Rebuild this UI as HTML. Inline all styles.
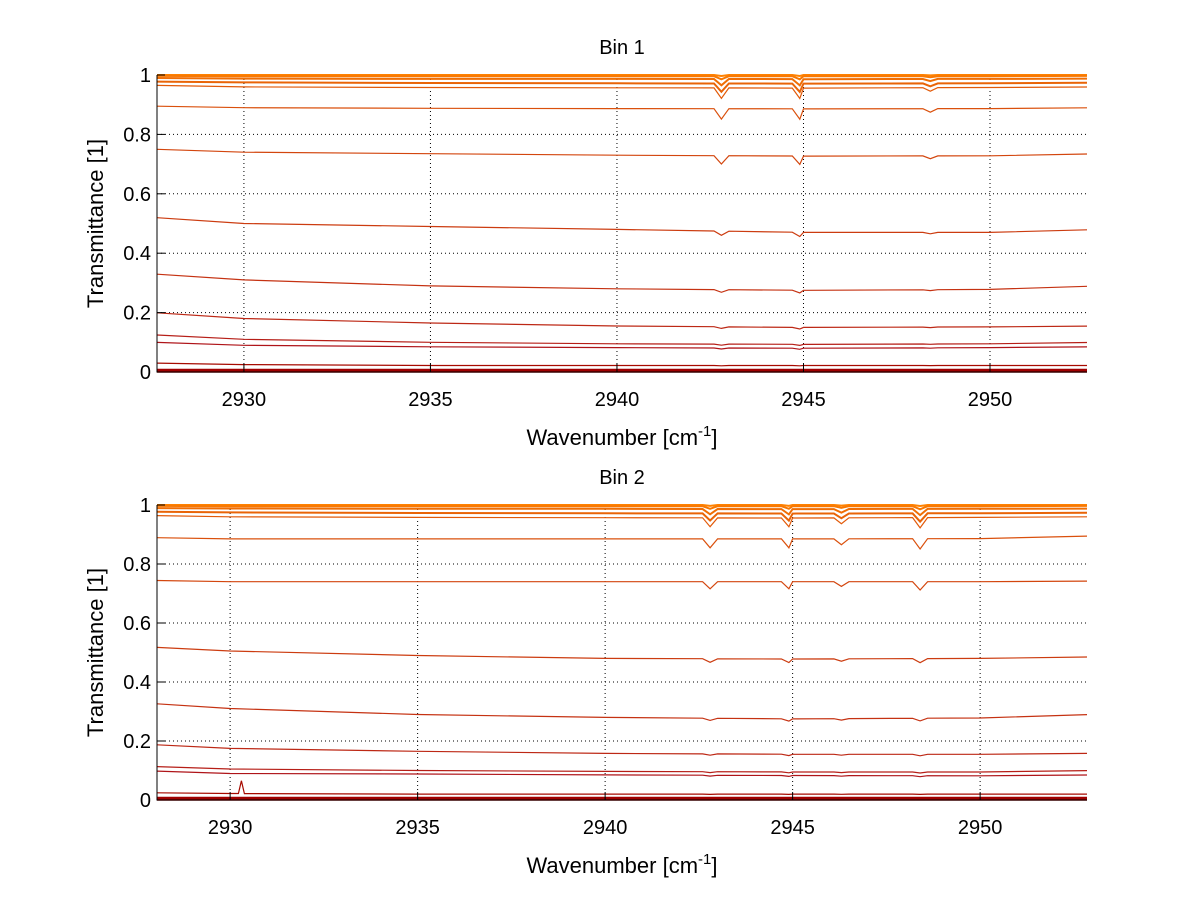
<!DOCTYPE html>
<html><head><meta charset="utf-8"><style>
body{margin:0;background:#fff}
svg{display:block}
text{font-family:"Liberation Sans",sans-serif;fill:#000}
</style></head><body>
<svg id="chart" width="1200" height="901" viewBox="0 0 1200 901" xmlns="http://www.w3.org/2000/svg"></svg>
<script>
// ---- data ----
const anchorX = [2927.6, 2930, 2935, 2940, 2945, 2950, 2953];
const bin1Curves = [
 [1.0,1.0,1.0,1.0,1.0,1.0,1.0],
 [0.997,0.996,0.996,0.996,0.996,0.996,0.997],
 [0.99,0.988,0.987,0.987,0.986,0.987,0.988],
 [0.978,0.975,0.973,0.972,0.971,0.972,0.974],
 [0.965,0.96,0.958,0.957,0.956,0.958,0.96],
 [0.895,0.89,0.888,0.887,0.886,0.887,0.89],
 [0.75,0.74,0.735,0.73,0.727,0.728,0.735],
 [0.52,0.50,0.49,0.48,0.47,0.47,0.48],
 [0.33,0.31,0.29,0.28,0.275,0.278,0.29],
 [0.20,0.18,0.165,0.155,0.15,0.152,0.155],
 [0.125,0.11,0.10,0.095,0.093,0.095,0.10],
 [0.10,0.09,0.085,0.082,0.08,0.082,0.085],
 [0.03,0.025,0.022,0.022,0.022,0.022,0.022],
 [0.004,0.004,0.004,0.004,0.004,0.004,0.004]
];
const bin1DipPos = [2942.8, 2944.9, 2948.4];
const bin1DipDepth = [0.035, 0.035, 0.012];
const bin1DipFactor = [0.1,0.3,0.6,0.8,1,1,0.8,0.4,0.25,0.15,0.1,0.1,0.03,0];

const bin2Curves = [
 [1.0,1.0,1.0,1.0,1.0,1.0,1.0],
 [0.997,0.996,0.996,0.996,0.996,0.996,0.997],
 [0.99,0.988,0.987,0.987,0.986,0.987,0.988],
 [0.978,0.975,0.973,0.972,0.971,0.972,0.974],
 [0.965,0.96,0.958,0.957,0.956,0.958,0.96],
 [0.89,0.885,0.885,0.885,0.885,0.886,0.895],
 [0.745,0.74,0.74,0.74,0.74,0.74,0.742],
 [0.52,0.505,0.49,0.48,0.478,0.48,0.485],
 [0.33,0.31,0.29,0.28,0.275,0.278,0.29],
 [0.19,0.175,0.165,0.158,0.155,0.155,0.158],
 [0.115,0.105,0.1,0.097,0.095,0.095,0.1],
 [0.10,0.09,0.088,0.085,0.083,0.082,0.085],
 [0.025,0.022,0.02,0.02,0.02,0.02,0.02],
 [0.004,0.004,0.004,0.004,0.004,0.004,0.004]
];
const bin2DipPos = [2942.8, 2944.9, 2946.3, 2948.4];
const bin2DipDepth = [0.03, 0.03, 0.02, 0.035];
const bin2DipFactor = [0.1,0.3,0.6,0.8,1,1,0.8,0.4,0.25,0.15,0.1,0.1,0.03,0];
const bin2SpikeX = 2930.3, bin2SpikeY = 0.065;

const xTicks = [2930, 2935, 2940, 2945, 2950];
const yTicks = [0, 0.2, 0.4, 0.6, 0.8, 1];
const yTickLabels = ["0","0.2","0.4","0.6","0.8","1"];

// ---- drawing ----
const NS = "http://www.w3.org/2000/svg";
const svg = document.getElementById('chart');
function mk(tag, attrs, parent){const e=document.createElementNS(NS,tag);for(const k in attrs)e.setAttribute(k,attrs[k]);(parent||svg).appendChild(e);return e;}
function color(i,n){
  const t=i/(n-1);
  const r=Math.round(255-t*95), g=Math.round(130-t*130), b=Math.round(t<0.9?30*t:0);
  return `rgb(${r},${g},${b})`;
}
function interp(xs,ys,x){
  if(x<=xs[0])return ys[0];
  for(let i=1;i<xs.length;i++){if(x<=xs[i]){const f=(x-xs[i-1])/(xs[i]-xs[i-1]);return ys[i-1]+f*(ys[i]-ys[i-1]);}}
  return ys[ys.length-1];
}
function panel(cfg){
  const g=mk('g',{});
  
  
  const sx=v=>cfg.x0+(v-cfg.xmin)/(cfg.xmax-cfg.xmin)*(cfg.x1-cfg.x0);
  const sy=v=>cfg.y1-(v)*(cfg.y1-cfg.y0);
  xTicks.forEach(t=>{
    const l=mk('line',{x1:sx(t),x2:sx(t),y1:cfg.y0,y2:cfg.y1,stroke:'#000','stroke-width':1,'stroke-dasharray':'1,3'},g);
    
    
  });
  yTicks.slice(1,5).forEach(t=>{
    const l=mk('line',{x1:cfg.x0,x2:cfg.x1,y1:sy(t),y2:sy(t),stroke:'#000','stroke-width':1,'stroke-dasharray':'1,3'},g);
    
    
  });
  const n=cfg.curves.length;
  cfg.curves.forEach((c,i)=>{
    const pts=[];
    let xs=[cfg.xmin,cfg.xmax];
    anchorX.forEach(a=>{if(a>cfg.xmin&&a<cfg.xmax)xs.push(a);});
    cfg.dipPos.forEach(p=>{xs.push(p-0.2,p,p+0.2);});
    if(cfg.spikeIdx===i){xs.push(cfg.spikeX-0.08,cfg.spikeX,cfg.spikeX+0.08);}
    xs.sort((a,b)=>a-b);
    xs.forEach(x=>{
      let v=interp(anchorX,c,x);
      cfg.dipPos.forEach((p,k)=>{if(Math.abs(x-p)<1e-6)v-=cfg.dipDepth[k]*cfg.dipFactor[i];});
      if(cfg.spikeIdx===i&&Math.abs(x-cfg.spikeX)<1e-6)v=cfg.spikeY;
      pts.push(sx(x).toFixed(1)+','+sy(Math.min(v,1)).toFixed(1));
    });
    const pl=mk('polyline',{points:pts.join(' '),fill:'none',stroke:color(i,n),'stroke-width':i===n-1?4:(i<4?2:1.2)},g);
    
    
  });
  const ax=mk('path',{d:`M${cfg.x0},${cfg.y0} V${cfg.y1} H${cfg.x1}`,fill:'none',stroke:'#000','stroke-width':1},g);
  
  
  xTicks.forEach(t=>{
    mk('line',{x1:sx(t),x2:sx(t),y1:cfg.y1,y2:cfg.y1-8,stroke:'#000'},g);
    const tx=mk('text',{x:sx(t),y:cfg.y1+34,'text-anchor':'middle','font-size':20},g);
    tx.textContent=t;
    
    
  });
  yTicks.forEach((t,k)=>{
    mk('line',{x1:cfg.x0,x2:cfg.x0+8,y1:sy(t),y2:sy(t),stroke:'#000'},g);
    const tx=mk('text',{x:cfg.x0-6,y:sy(t)+7,'text-anchor':'end','font-size':20},g);
    tx.textContent=yTickLabels[k];
    
    
  });
  const ti=mk('text',{x:(cfg.x0+cfg.x1)/2,y:cfg.y0-21,'text-anchor':'middle','font-size':20},g);
  ti.textContent=cfg.title;
  
  
  const xl=mk('text',{x:(cfg.x0+cfg.x1)/2,y:cfg.y1+73,'text-anchor':'middle','font-size':22},g);
  xl.innerHTML='Wavenumber [cm<tspan dy="-9" font-size="15">-1</tspan><tspan dy="9">]</tspan>';
  
  
  const yl=mk('text',{x:0,y:0,'text-anchor':'middle','font-size':22,transform:`translate(103,${(cfg.y0+cfg.y1)/2}) rotate(-90)`},g);
  yl.textContent='Transmittance [1]';
  
  
}
panel({name:'bin-1-panel',title:'Bin 1',x0:157,x1:1087,y0:75,y1:372,xmin:2927.67,xmax:2952.6,
  curves:bin1Curves,dipPos:bin1DipPos,dipDepth:bin1DipDepth,dipFactor:bin1DipFactor,spikeIdx:-1});
panel({name:'bin-2-panel',title:'Bin 2',x0:157,x1:1087,y0:505,y1:800,xmin:2928.05,xmax:2952.85,
  curves:bin2Curves,dipPos:bin2DipPos,dipDepth:bin2DipDepth,dipFactor:bin2DipFactor,spikeIdx:12,spikeX:bin2SpikeX,spikeY:bin2SpikeY});
</script>
</body></html>
